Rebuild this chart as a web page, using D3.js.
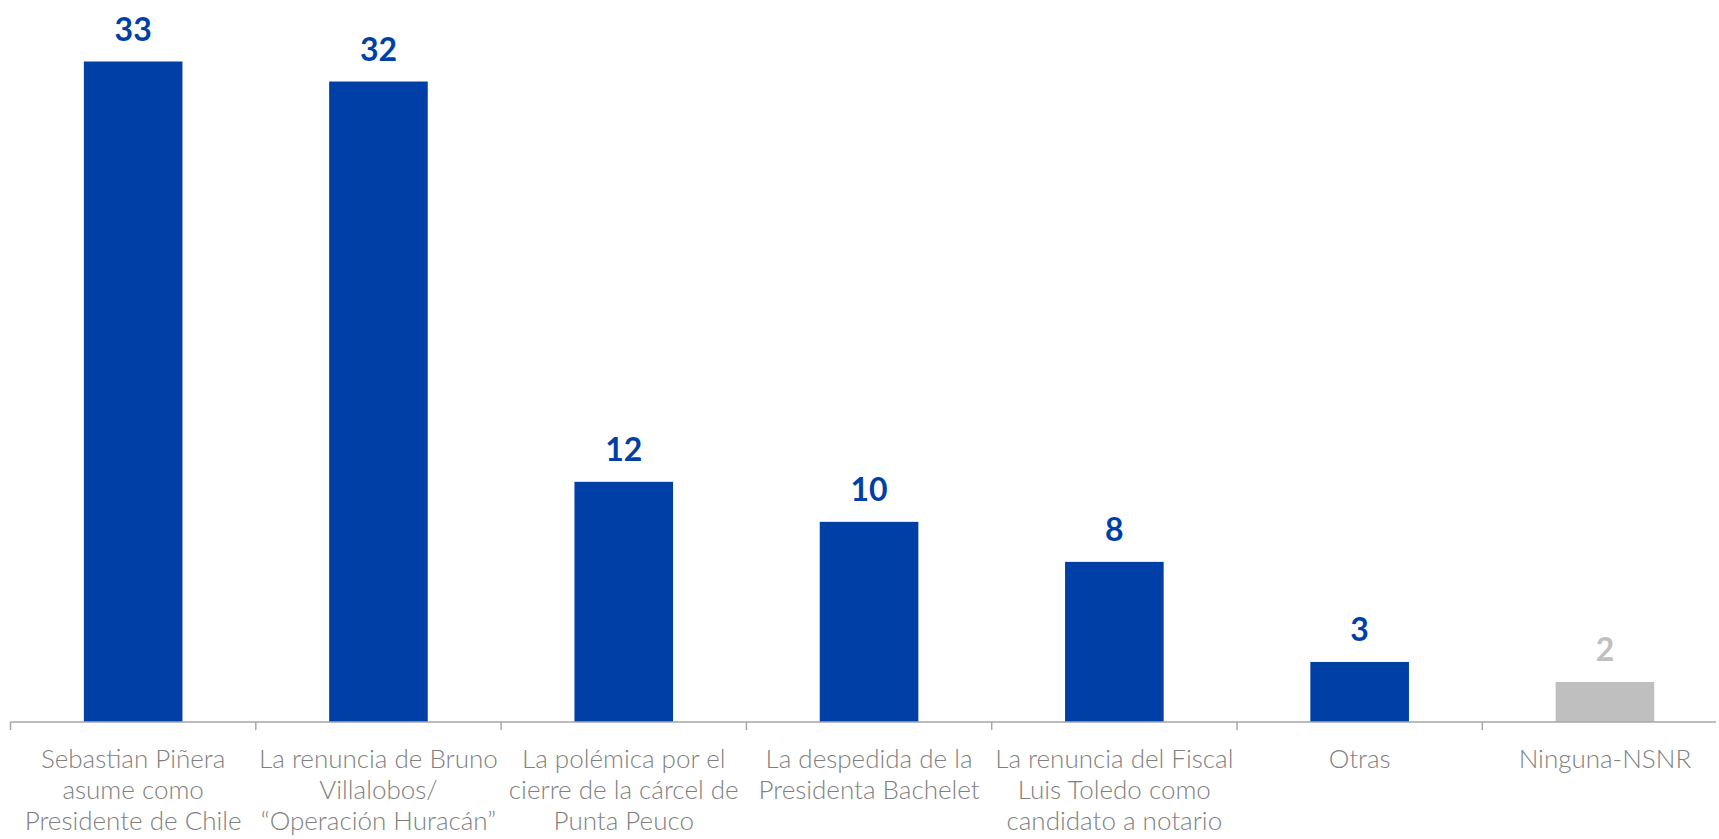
<!DOCTYPE html>
<html>
<head>
<meta charset="utf-8">
<script src="https://cdn.jsdelivr.net/npm/d3@7"></script>
<style>
  html, body { margin: 0; padding: 0; background: #fff; }
  svg { display: block; }
  .cat-label { font-family: Lato, "Open Sans", sans-serif; font-weight: 300; font-size: 26px; fill: #7f7f7f; }
  .val-label { font-family: Lato, "Open Sans", sans-serif; font-weight: 700; font-size: 32px; }
</style>
</head>
<body>
<div id="chart"></div>
<script>
const categories = [
    ["Sebastian Piñera", "asume como", "Presidente de Chile"],
    ["La renuncia de Bruno", "Villalobos/", "“Operación Huracán”"],
    ["La polémica por el", "cierre de la cárcel de", "Punta Peuco"],
    ["La despedida de la", "Presidenta Bachelet"],
    ["La renuncia del Fiscal", "Luis Toledo como", "candidato a notario"],
    ["Otras"],
    ["Ninguna-NSNR"]
];
const values = [33, 32, 12, 10, 8, 3, 2];
const barColors = ["#003fa6", "#003fa6", "#003fa6", "#003fa6", "#003fa6", "#003fa6", "#bfbfbf"];

function renderChart(containerId) {
    const container = document.getElementById(containerId);
    container.innerHTML = '';

    const width = 1719;
    const height = 839;

    const svg = d3.select(container).append("svg")
        .attr("width", width)
        .attr("height", height);

    // last category runs past the right edge, like the original
    const x = d3.scaleBand()
        .domain(d3.range(values.length))
        .range([10.5, 10.5 + 7 * 245.3])
        .paddingInner(0.598)
        .paddingOuter(0.299);

    const y = d3.scaleLinear()
        .domain([0, 33])
        .range([722, 61.5]);

    const step = x.step();
    const x0 = x.range()[0];

    // bars
    svg.append("g")
        .selectAll("rect")
        .data(values)
        .enter().append("rect")
        .attr("x", (d, i) => x(i))
        .attr("y", d => y(d))
        .attr("width", x.bandwidth())
        .attr("height", d => y(0) - y(d))
        .attr("fill", (d, i) => barColors[i]);

    // value labels
    svg.append("g")
        .selectAll("text")
        .data(values)
        .enter().append("text")
        .attr("class", "val-label")
        .attr("x", (d, i) => x(i) + x.bandwidth() / 2)
        .attr("y", d => y(d) - 21)
        .attr("text-anchor", "middle")
        .attr("fill", (d, i) => barColors[i])
        .text(d => d);

    // axis line + ticks between categories
    const axis = svg.append("g").attr("stroke", "#a6a6a6").attr("stroke-width", 1.5);
    axis.append("line")
        .attr("x1", x0).attr("x2", 1716)
        .attr("y1", y(0)).attr("y2", y(0));
    axis.selectAll("line.tick")
        .data(d3.range(values.length))
        .enter().append("line")
        .attr("class", "tick")
        .attr("x1", i => x0 + i * step).attr("x2", i => x0 + i * step)
        .attr("y1", y(0)).attr("y2", y(0) + 8);

    // category labels
    const labels = svg.append("g")
        .selectAll("text")
        .data(categories)
        .enter().append("text")
        .attr("class", "cat-label")
        .attr("text-anchor", "middle")
        .attr("x", (d, i) => x(i) + x.bandwidth() / 2)
        .attr("y", y(0) + 46);

    labels.selectAll("tspan")
        .data(d => d)
        .enter().append("tspan")
        .attr("x", function () { return d3.select(this.parentNode).attr("x"); })
        .attr("dy", (d, j) => j === 0 ? 0 : 31)
        .text(d => d);
}

renderChart("chart");
</script>
</body>
</html>
